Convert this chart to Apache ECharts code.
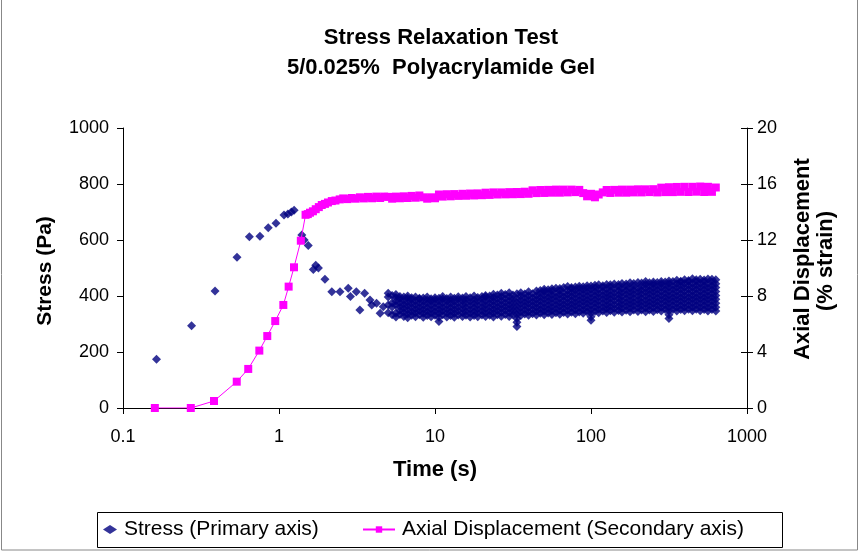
<!DOCTYPE html>
<html><head><meta charset="utf-8">
<script src="https://cdn.jsdelivr.net/npm/echarts@6/dist/echarts.min.js"></script>
<style>html,body{margin:0;padding:0;background:#fff}#c{width:860px;height:554px}</style>
</head><body><div id="c"></div>
<script>
const titleLines = ['Stress Relaxation Test', '5/0.025%  Polyacrylamide Gel'];
const xTickLabels = ['0.1', '1', '10', '100', '1000'];
const stressName = 'Stress (Primary axis)';
const dispName = 'Axial Displacement (Secondary axis)';

// early / sparse stress points
const stressTime = [0.164, 0.275, 0.389, 0.538, 0.646, 0.755, 0.853, 0.957, 1.077, 1.14, 1.20, 1.25,
  1.40, 1.45, 1.54, 1.66, 1.72, 1.79, 1.97, 2.18, 2.46, 2.78, 2.87, 3.13, 3.30, 3.54, 3.83, 3.93, 4.22, 4.45, 4.66];
const stressValue = [174, 294, 418, 538, 612, 613, 644, 660, 689, 693, 700, 706,
  618, 600, 580, 495, 510, 500, 460, 415, 415, 428, 398, 415, 350, 410, 386, 368, 374, 338, 362];

// dense region: sampled time columns and the stress values read in each column
const bandTime = [5.01, 5.31, 5.62, 5.96, 6.31, 6.68, 7.08, 7.50, 7.94, 8.41, 8.91, 9.44,
  10.0, 10.6, 11.2, 11.9, 12.6, 13.3, 14.1, 15.0, 15.8, 16.8, 17.8, 18.8,
  20.0, 21.1, 22.4, 23.7, 25.1, 26.6, 28.2, 29.9, 31.6, 33.5, 35.5, 37.6,
  39.8, 42.2, 44.7, 47.3, 50.1, 53.1, 56.2, 59.6, 63.1, 66.8, 70.8, 75.0,
  79.4, 84.1, 89.1, 94.4, 100, 106, 112, 119, 126, 133, 141, 150,
  158, 168, 178, 188, 200, 211, 224, 237, 251, 266, 282, 299,
  316, 335, 355, 376, 398, 422, 447, 473, 501, 531, 562, 596, 631];
const stressBand = [
  [340, 368, 396, 410], [333, 361, 375, 402], [325, 339, 367, 381, 395, 405],
  [334, 348, 362, 376, 390, 398], [327, 341, 355, 369, 383, 396], [322, 336, 350, 364, 378, 392, 400],
  [331, 345, 359, 373, 387, 394], [326, 340, 354, 368, 382, 396], [333, 347, 361, 375, 389, 392],
  [324, 338, 352, 366, 380, 393], [330, 344, 358, 372, 386, 396], [326, 340, 354, 368, 382, 390],
  [331, 345, 359, 373, 387, 394], [309, 324, 338, 352, 366, 380, 392], [333, 347, 361, 375, 389, 398],
  [325, 339, 353, 367, 381, 391], [330, 344, 358, 372, 386, 396], [324, 338, 352, 366, 380, 392],
  [332, 346, 360, 374, 388, 397], [327, 341, 355, 369, 383, 393], [331, 345, 359, 373, 387, 398],
  [325, 339, 353, 367, 381, 394], [330, 344, 358, 372, 386, 400], [326, 340, 354, 368, 382, 395],
  [332, 346, 360, 374, 388, 398],
  [327, 341, 355, 369, 383, 397, 402], [331, 345, 359, 373, 387, 400], [325, 339, 353, 367, 381, 395, 406],
  [333, 347, 361, 375, 389, 404], [328, 342, 356, 370, 384, 398, 410], [334, 348, 362, 376, 390, 405],
  [327, 341, 355, 369, 383, 397, 412], [333, 347, 361, 375, 389, 404], [291, 306, 320, 334, 348, 362, 376, 390, 408],
  [330, 344, 358, 372, 386, 400, 412], [336, 350, 364, 378, 392, 407],
  [331, 345, 359, 373, 387, 401, 415], [337, 351, 365, 379, 393, 408], [332, 346, 360, 374, 388, 402, 418],
  [338, 352, 366, 380, 394, 408, 420], [333, 347, 361, 375, 389, 403, 417, 424], [339, 353, 367, 381, 395, 409, 422],
  [334, 348, 362, 376, 390, 404, 418, 426], [340, 354, 368, 382, 396, 410, 428], [335, 349, 363, 377, 391, 405, 419, 427],
  [341, 355, 369, 383, 397, 411, 430], [336, 350, 364, 378, 392, 406, 420, 434], [342, 356, 370, 384, 398, 412, 426, 430],
  [337, 351, 365, 379, 393, 407, 421, 432], [343, 357, 371, 385, 399, 413, 427, 435], [338, 352, 366, 380, 394, 408, 422, 433],
  [344, 358, 372, 386, 400, 414, 428, 437],
  [313, 326, 339, 353, 367, 381, 395, 409, 423, 436], [345, 359, 373, 387, 401, 415, 429, 438],
  [340, 354, 368, 382, 396, 410, 424, 440], [346, 360, 374, 388, 402, 416, 430, 437],
  [341, 355, 369, 383, 397, 411, 425, 441], [347, 361, 375, 389, 403, 417, 431, 440],
  [342, 356, 370, 384, 398, 412, 426, 443], [348, 362, 376, 390, 404, 418, 432, 441],
  [343, 357, 371, 385, 399, 413, 427, 445], [349, 363, 377, 391, 405, 419, 433, 443],
  [344, 358, 372, 386, 400, 414, 428, 447], [350, 364, 378, 392, 406, 420, 434, 445],
  [345, 359, 373, 387, 401, 415, 429, 448],
  [350, 364, 378, 392, 406, 420, 434, 446], [344, 358, 372, 386, 400, 414, 428, 442, 452],
  [350, 364, 378, 392, 406, 420, 434, 447], [345, 359, 373, 387, 401, 415, 429, 443, 450],
  [351, 365, 379, 393, 407, 421, 435, 448], [346, 360, 374, 388, 402, 416, 430, 444, 452],
  [352, 366, 380, 394, 408, 422, 436, 450], [320, 333, 347, 361, 375, 389, 403, 417, 431, 445, 454],
  [352, 366, 380, 394, 408, 422, 436, 452], [346, 360, 374, 388, 402, 416, 430, 444, 456],
  [352, 366, 380, 394, 408, 422, 436, 450, 453], [347, 361, 375, 389, 403, 417, 431, 445, 458],
  [353, 367, 381, 395, 409, 423, 437, 451, 455], [347, 361, 375, 389, 403, 417, 431, 445, 462],
  [353, 367, 381, 395, 409, 423, 437, 451, 458], [347, 361, 375, 389, 403, 417, 431, 445, 460],
  [352, 366, 380, 394, 408, 422, 436, 450, 457], [346, 360, 374, 388, 402, 416, 430, 444, 461],
  [352, 366, 380, 394, 408, 422, 436, 450, 460], [346, 360, 374, 388, 402, 416, 430, 444, 458]];

// displacement (% strain): early points, then one value per dense time column
const dispTime = [0.160, 0.272, 0.383, 0.536, 0.635, 0.748, 0.841, 0.946, 1.066, 1.153, 1.248, 1.38, 1.48,
  1.53, 1.58, 1.65, 1.72, 1.80, 1.88, 1.97, 2.06, 2.18, 2.30, 2.45, 2.58, 2.75, 2.92, 3.10, 3.30, 3.50, 3.72, 3.95, 4.20, 4.45, 4.72];
const dispValue = [0, 0, 0.5, 1.88, 2.79, 4.1, 5.14, 6.21, 7.36, 8.67, 10.05, 11.95, 13.8,
  13.85, 13.95, 14.05, 14.2, 14.35, 14.5, 14.58, 14.68, 14.78, 14.82, 14.9, 14.97, 14.92, 15.0, 14.95, 15.05, 14.97, 15.08, 14.98, 15.1, 15.0, 15.1];
const dispBand = [15.08, 14.95, 15.10, 14.98, 15.12,
  15.00, 15.15, 15.02, 15.18, 15.05,
  14.95, 15.05, 14.98,
  15.25, 15.10, 15.27, 15.12, 15.28, 15.15, 15.30, 15.16, 15.32, 15.18, 15.33, 15.20,
  15.38, 15.22, 15.40, 15.25, 15.40, 15.26, 15.42, 15.27, 15.43, 15.28, 15.45, 15.30,
  15.55, 15.35, 15.57, 15.36, 15.58, 15.38, 15.60, 15.38, 15.60, 15.40, 15.60, 15.42, 15.58,
  15.35, 15.12, 15.30, 15.05, 15.25, 15.40,
  15.57, 15.36, 15.58, 15.38, 15.60, 15.38, 15.60, 15.40, 15.62, 15.40, 15.62, 15.42, 15.63,
  15.40, 15.74, 15.42, 15.77, 15.42, 15.79, 15.44, 15.80, 15.43, 15.80, 15.45, 15.82, 15.43, 15.80, 15.44, 15.75];

const stressData = stressTime.map((t, i) => [t, stressValue[i]]);
bandTime.forEach((t, i) => stressBand[i].forEach(v => stressData.push([t, v])));
const dispData = dispTime.map((t, i) => [t, dispValue[i]]).concat(bandTime.map((t, i) => [t, dispBand[i]]));

const FONT = '"Liberation Sans", Arial, sans-serif';
const axisLine = { show: true, lineStyle: { color: '#000', width: 1 } };
const chart = echarts.init(document.getElementById('c'), null, { renderer: 'canvas' });
chart.setOption({
  animation: false,
  backgroundColor: '#fff',
  textStyle: { fontFamily: FONT, color: '#000' },
  grid: { left: 123, right: 113, top: 128, bottom: 146, containLabel: false },
  legend: [
    { data: [stressName], left: 103, top: 519, itemWidth: 14, itemHeight: 9, itemGap: 0, padding: 0,
      textStyle: { fontFamily: FONT, fontSize: 21, color: '#000', padding: [0, 0, 0, 2] } },
    { data: [dispName], left: 362, top: 519, itemWidth: 32, itemHeight: 8, padding: 0,
      textStyle: { fontFamily: FONT, fontSize: 21, color: '#000', padding: [0, 0, 0, 2] } }
  ],
  xAxis: [{
    type: 'log', logBase: 10, min: 0.1, max: 1000,
    axisLine, axisTick: { show: true, length: 6, inside: false, lineStyle: { color: '#000' } },
    minorTick: { show: false }, splitLine: { show: false },
    axisLabel: { fontFamily: FONT, fontSize: 18, color: '#000', margin: 20,
      formatter: v => xTickLabels[Math.round(Math.log10(v)) + 1] }
  }],
  yAxis: [{
    type: 'value', min: 0, max: 1000, interval: 200, position: 'left',
    axisLine, axisTick: { show: true, length: 6, lineStyle: { color: '#000' } },
    splitLine: { show: false },
    axisLabel: { fontFamily: FONT, fontSize: 18, color: '#000', margin: 14, formatter: v => String(v) }
  }, {
    type: 'value', min: 0, max: 20, interval: 4, position: 'right',
    axisLine, axisTick: { show: true, length: 6, lineStyle: { color: '#000' } },
    splitLine: { show: false },
    axisLabel: { fontFamily: FONT, fontSize: 18, color: '#000', margin: 10, formatter: v => String(v) }
  }, {
    type: 'value', min: 0, max: 20, interval: 4, position: 'right',
    axisLine: { show: false }, axisTick: { show: true, inside: true, length: 6, lineStyle: { color: '#000' } },
    splitLine: { show: false }, axisLabel: { show: false }
  }],
  graphic: [
    { type: 'text', x: 441, y: 38, style: { text: titleLines[0], textAlign: 'center', textVerticalAlign: 'middle', font: 'bold 22px ' + FONT, fill: '#000' } },
    { type: 'text', x: 441, y: 68, style: { text: titleLines[1], textAlign: 'center', textVerticalAlign: 'middle', font: 'bold 22px ' + FONT, fill: '#000' } },
    { type: 'text', x: 45, y: 271, rotation: Math.PI / 2, style: { text: 'Stress (Pa)', textAlign: 'center', textVerticalAlign: 'middle', font: 'bold 21px ' + FONT, fill: '#000' } },
    { type: 'text', x: 803, y: 259, rotation: Math.PI / 2, style: { text: 'Axial Displacement', textAlign: 'center', textVerticalAlign: 'middle', font: 'bold 22px ' + FONT, fill: '#000' } },
    { type: 'text', x: 826, y: 261, rotation: Math.PI / 2, style: { text: '(% strain)', textAlign: 'center', textVerticalAlign: 'middle', font: 'bold 22px ' + FONT, fill: '#000' } },
    { type: 'text', x: 435, y: 470, style: { text: 'Time (s)', textAlign: 'center', textVerticalAlign: 'middle', font: 'bold 22px ' + FONT, fill: '#000' } },
    { type: 'rect', shape: { x: 97.5, y: 512.5, width: 685, height: 35 }, style: { fill: 'none', stroke: '#000', lineWidth: 1 }, z: -1 },
    { type: 'rect', shape: { x: 1.5, y: -5, width: 856, height: 555 }, style: { fill: 'none', stroke: '#888', lineWidth: 1 }, z: -1 }
  ],
  series: [{
    name: stressName, type: 'scatter', xAxisIndex: 0, yAxisIndex: 0,
    symbol: 'diamond', symbolSize: [9, 9], itemStyle: { color: '#000080' },
    data: stressData, z: 2
  }, {
    name: dispName, type: 'line', xAxisIndex: 0, yAxisIndex: 1,
    symbol: 'rect', symbolSize: 8, showSymbol: true, showAllSymbol: true,
    itemStyle: { color: '#FF00FF' }, lineStyle: { color: '#FF00FF', width: 1 },
    data: dispData, z: 3
  }]
});
</script></body></html>
